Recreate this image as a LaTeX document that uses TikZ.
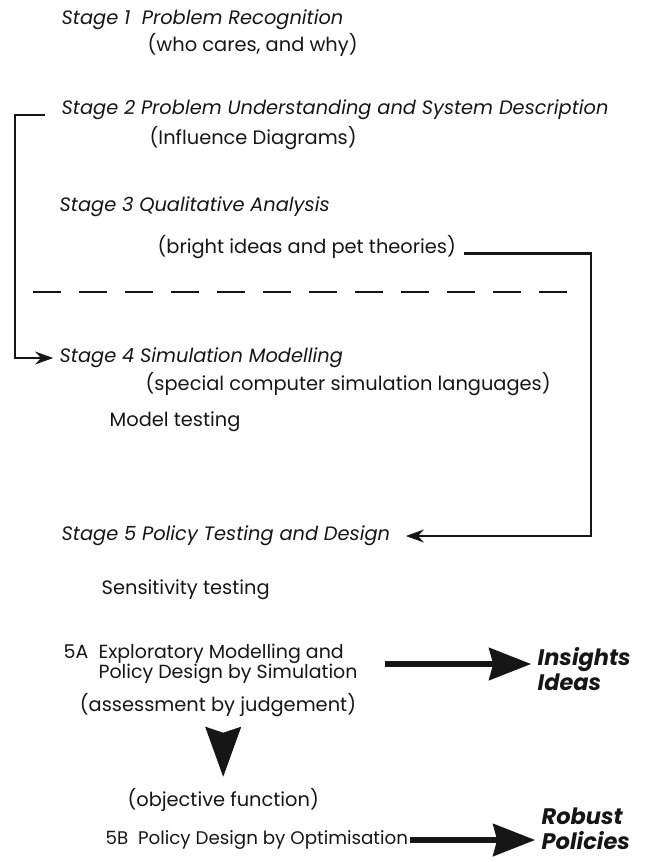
\documentclass[tikz,border=0pt]{standalone}
\usepackage{fontspec}
\setmainfont{Poppins}
\usepackage{xcolor}
\usepackage{tikz}
\usetikzlibrary{arrows.meta, positioning, calc}
\definecolor{ink}{HTML}{161616}

\begin{document}
\begin{tikzpicture}[
    stage/.style={anchor=west, inner sep=1pt, font=\fontsize{13.8}{15}\selectfont\itshape},
    note/.style={anchor=west, inner sep=1pt, font=\fontsize{13.8}{15}\selectfont},
    outcome/.style={anchor=west, inner sep=1pt, align=left, font=\fontsize{16}{17.5}\selectfont\bfseries\itshape},
    feedback/.style={draw=ink, line width=1.6pt, -{Stealth[length=4.5mm, width=3.2mm]}},
    result/.style={draw=ink, line width=4.2pt, -{Stealth[length=10.5mm, width=8mm, inset=1mm]}},
    drop/.style={draw=ink, line width=0.6pt, -{Stealth[length=12.5mm, width=9mm, inset=1.5mm]}},
    color=ink
]
\useasboundingbox (0,0) rectangle (16.35,-21.55);

% Stage 1
\node[stage] (stage1) at (1.5,-0.5) {Stage 1\ \ Problem Recognition};
\node[note] (why) at (3.65,-1.125) {(who cares, and why)};

% Stage 2
\node[stage] (stage2) at (1.5,-2.75) {Stage 2 Problem Understanding and System Description};
\node[note] (influence) at (3.7,-3.45) {(Influence Diagrams)};

% Stage 3
\node[stage] (stage3) at (1.45,-5.175) {Stage 3 Qualitative Analysis};
\node[note] (ideas) at (3.9,-6.175) {(bright ideas and pet theories)};

% qualitative above, quantitative below
\draw[ink, line width=1.4pt, dash pattern=on 7mm off 4.5mm] (0.825,-7.3) -- (14.175,-7.3);

% Stage 4
\node[stage] (stage4) at (1.45,-8.95) {Stage 4 Simulation Modelling};
\node[note] (languages) at (3.6,-9.6) {(special computer simulation languages)};
\node[note] (modeltest) at (2.7,-10.55) {Model testing};

% Stage 5
\node[stage] (stage5) at (1.5,-13.4) {Stage 5 Policy Testing and Design};
\node[note] (sensitivity) at (2.5,-14.75) {Sensitivity testing};

% 5A and 5B
\node[note, font=\fontsize{13.5}{12.5}\selectfont] (explore) at (1.55,-16.6)
    {\begin{tabular}{@{}l@{\ \ }l@{}}5A & Exploratory Modelling and\\ & Policy Design by Simulation\end{tabular}};
\node[note, anchor=center] (judgement) at (5.45,-17.625) {(assessment by judgement)};
\node[note, anchor=center] (objective) at (5.58,-20.0) {(objective function)};
\node[note, font=\fontsize{13}{15}\selectfont] (optimise) at (2.6,-21.0) {5B\ \ Policy Design by Optimisation};

% outcomes
\node[outcome] (insights) at (13.4,-16.72) {Insights\\Ideas};
\node[outcome] (robust) at (13.5,-20.72) {Robust\\Policies};

% feedback loops
\coordinate (leftrail) at (0.375,0);
\coordinate (rightrail) at (14.775,0);
\draw[feedback, shorten >=1.2mm] ([xshift=-3.75mm]stage2.base west) -- (stage2.base west -| leftrail) |- (stage4.west);
\draw[feedback, shorten >=3.5mm] ([xshift=1.5mm]ideas.base east) -- (ideas.base east -| rightrail) |- (stage5.east);

% results
\draw[result, shorten <=6.5mm, shorten >=1.2mm] (explore.east) -- (explore.east -| insights.west);
\draw[result, shorten >=1.2mm] (optimise.east) -- (optimise.east -| robust.west);
\draw[drop, shorten <=4mm, shorten >=2.5mm] (judgement.south -| objective) -- (objective.north);

\end{tikzpicture}
\end{document}
